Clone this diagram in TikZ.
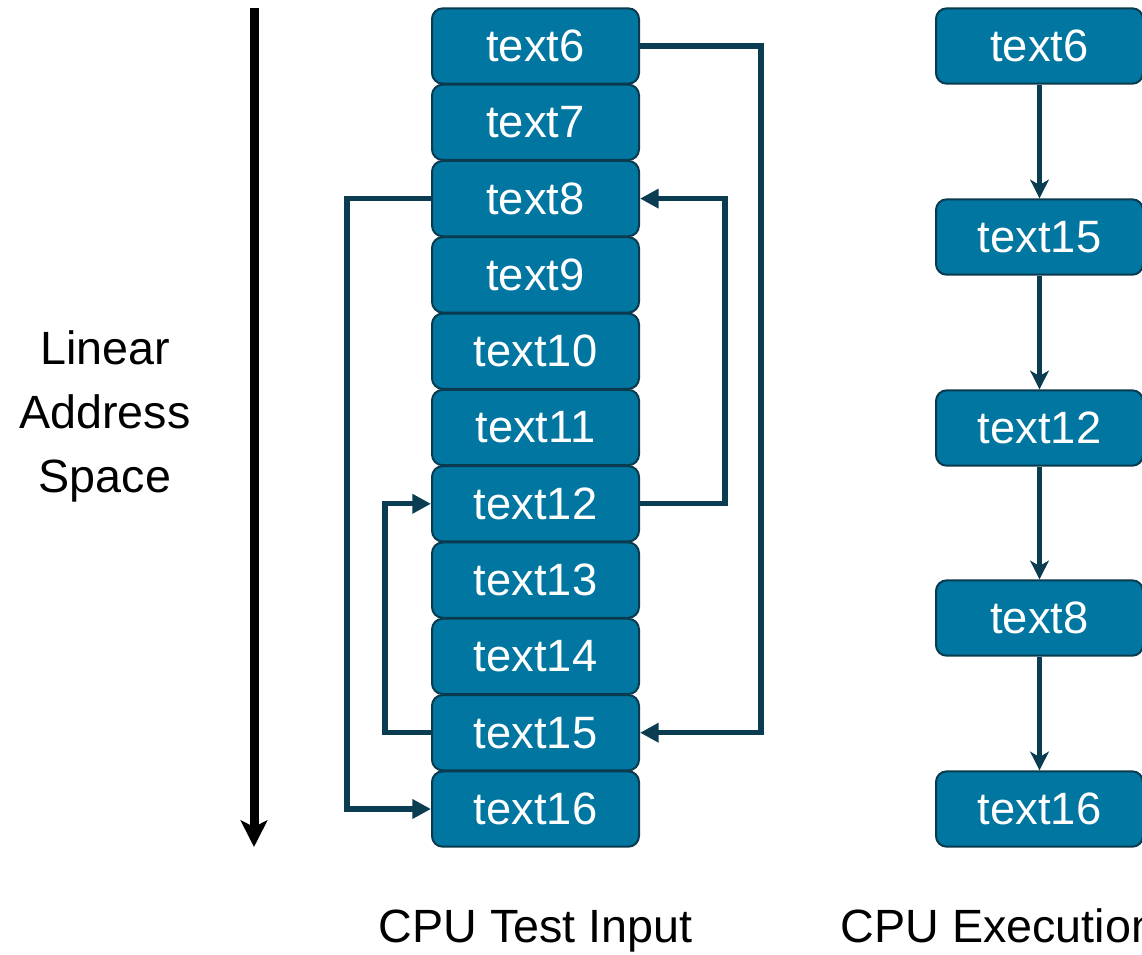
\documentclass[tikz,border=0pt]{standalone}
\usepackage{fontspec}
\setmainfont{Liberation Sans}
\usetikzlibrary{arrows.meta,positioning}
\definecolor{boxfill}{RGB}{0,118,160}
\definecolor{boxedge}{RGB}{10,58,78}
\definecolor{linkcol}{RGB}{11,61,82}
\tikzset{
  mem/.style={draw=boxedge,line width=1.5pt,fill=boxfill,rounded corners=8pt,
    minimum width=155.25pt,minimum height=56.5pt,inner sep=0pt,text=white,
    font=\fontsize{34}{40}\selectfont},
  jump/.style={draw=linkcol,line width=4pt,-{Triangle[length=14pt,width=14pt]}},
  flow/.style={draw=linkcol,line width=3.6pt,-{Stealth[length=14pt,width=14pt,inset=4pt]}},
  caption/.style={font=\fontsize{35}{48}\selectfont,align=center,text=black}
}
\begin{document}
\begin{tikzpicture}[x=0.75pt,y=-0.75pt]
\useasboundingbox[fill=white] (0,0) rectangle (1142,954);

% address axis
\coordinate (axtop) at (254,8);
\coordinate (axbot) at (254,847);
\draw[line width=6.75pt,-{Stealth[length=20pt,width=20pt,inset=5pt]}] (axtop) -- (axbot);
\node[caption] (axlabel) at (105,416) {Linear\\Address\\Space};

% memory layout column
\foreach \n [count=\i from 0] in {6,...,16}
  \node[mem] (m\n) at (535.5,{46+76.3*\i}) {text\n};

% jumps between blocks
\draw[jump] (m6.east) -- ++(121,0) |- (m15.east);
\draw[jump] (m12.east) -- ++(85,0) |- (m8.east);
\draw[jump] (m8.west) -- ++(-84,0) |- (m16.west);
\draw[jump] (m15.west) -- ++(-46,0) |- (m12.west);

% execution order column
\node[mem] (e6)  at (1039.5,46)  {text6};
\node[mem] (e15) at (1039.5,237) {text15};
\node[mem] (e12) at (1039.5,428) {text12};
\node[mem] (e8)  at (1039.5,618) {text8};
\node[mem] (e16) at (1039.5,809) {text16};
\draw[flow] (e6) -- (e15);
\draw[flow] (e15) -- (e12);
\draw[flow] (e12) -- (e8);
\draw[flow] (e8) -- (e16);

% column captions
\node[caption,anchor=base] (capin) at (535.5,942) {CPU Test Input};
\node[caption,anchor=base west] (capex) at (836,942) {CPU Execution};
\end{tikzpicture}
\end{document}
